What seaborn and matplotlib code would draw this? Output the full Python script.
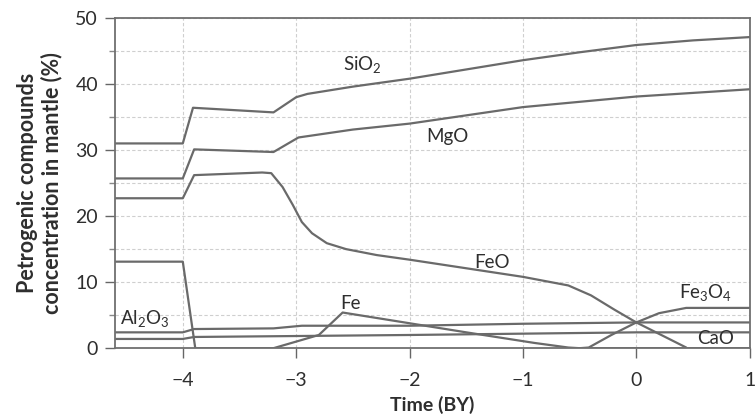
"""Petrogenic compounds concentration in the mantle over time."""

import matplotlib
matplotlib.use("Agg")
import matplotlib.pyplot as plt
import pandas as pd
import seaborn as sns

# --- data (time in BY, concentration in %) ---
SIO2_TIME = [-4.6, -4.0, -3.91, -3.2, -3.0, -2.9, -2.5, -2.0, -1.5, -1.0, -0.5, 0.0, 0.5, 1.0]
SIO2 = [31.0, 31.0, 36.4, 35.7, 38.0, 38.5, 39.6, 40.8, 42.2, 43.6, 44.8, 45.9, 46.6, 47.1]

MGO_TIME = [-4.6, -4.0, -3.9, -3.2, -2.98, -2.5, -2.0, -1.0, 0.0, 1.0]
MGO = [25.7, 25.7, 30.1, 29.7, 31.9, 33.1, 34.0, 36.5, 38.1, 39.2]

FEO_TIME = [-4.6, -4.0, -3.9, -3.3, -3.22, -3.12, -3.03, -2.95, -2.86, -2.73, -2.56,
            -2.29, -2.0, -1.5, -1.0, -0.6, -0.4, -0.19, 0.0, 0.44]
FEO = [22.7, 22.7, 26.2, 26.6, 26.5, 24.4, 21.7, 19.1, 17.4, 15.9, 15.0,
       14.1, 13.4, 12.1, 10.8, 9.5, 8.0, 5.8, 3.9, 0.1]

FE_TIME = [-4.6, -4.0, -3.89, -3.2, -2.8, -2.59, -1.5, -0.9, -0.6, -0.5, 1.0]
FE = [13.1, 13.1, 0.0, 0.0, 2.0, 5.4, 2.4, 0.8, 0.1, 0.0, 0.0]

FE3O4_TIME = [-0.5, -0.42, -0.22, 0.0, 0.2, 0.44, 1.0]
FE3O4 = [0.0, 0.1, 2.0, 3.9, 5.3, 6.1, 6.1]

AL2O3_TIME = [-4.6, -4.0, -3.9, -3.2, -2.95, -2.0, -1.0, 0.0, 1.0]
AL2O3 = [2.4, 2.4, 2.9, 3.0, 3.4, 3.4, 3.7, 3.9, 3.9]

CAO_TIME = [-4.6, -4.0, -3.9, -2.0, -1.0, 0.0, 1.0]
CAO = [1.4, 1.4, 1.7, 2.0, 2.2, 2.4, 2.4]

X_TICKS = [-4, -3, -2, -1, 0, 1]
Y_TICKS = [0, 10, 20, 30, 40, 50]

# label text and where it sits (time, %)
LABELS = [
    ("SiO$_2$", -2.42, 43.0),
    ("MgO", -1.67, 32.0),
    ("FeO", -1.27, 13.0),
    ("Fe", -2.52, 6.8),
    ("Fe$_3$O$_4$", 0.61, 8.5),
    ("CaO", 0.70, 1.5),
    ("Al$_2$O$_3$", -4.34, 4.5),
]

SERIES = {
    "SiO2": (SIO2_TIME, SIO2),
    "MgO": (MGO_TIME, MGO),
    "FeO": (FEO_TIME, FEO),
    "Fe": (FE_TIME, FE),
    "Fe3O4": (FE3O4_TIME, FE3O4),
    "Al2O3": (AL2O3_TIME, AL2O3),
    "CaO": (CAO_TIME, CAO),
}

frames = [pd.DataFrame({"compound": name, "time": t, "value": v})
          for name, (t, v) in SERIES.items()]
df = pd.concat(frames, ignore_index=True)

sns.set_theme(style="ticks")
plt.rcParams["font.family"] = ["Lato", "DejaVu Sans"]
plt.rcParams["mathtext.default"] = "regular"

line_color = "#6a6a6a"
text_color = "#2e2e2e"
fig, ax = plt.subplots(figsize=(7.55, 4.17), dpi=100)
fig.subplots_adjust(left=0.152, right=0.993, top=0.957, bottom=0.165)

sns.lineplot(data=df, x="time", y="value", units="compound", estimator=None,
             sort=False, color=line_color, linewidth=1.6, ax=ax)

for text, x, y in LABELS:
    ax.text(x, y, text, ha="center", va="center", fontsize=13.5, color=text_color)

ax.set_xlim(-4.6, 1.0)
ax.set_ylim(0, 50)
ax.set_xticks(X_TICKS)
ax.set_xticklabels([str(t).replace("-", "\u2212") for t in X_TICKS])
ax.set_yticks(Y_TICKS)
ax.set_yticks([5, 15, 25, 35, 45], minor=True)
ax.tick_params(axis="both", labelsize=14, colors="#666666", labelcolor=text_color,
               length=7, width=1)
ax.tick_params(axis="x", pad=10)
ax.tick_params(axis="y", pad=5)
ax.tick_params(axis="y", which="minor", length=4, width=1, colors="#888888")

ax.grid(True, which="both", color="#cfcfcf", linestyle=(0, (3, 2)), linewidth=0.8)
for side in ["top", "right", "left", "bottom"]:
    ax.spines[side].set_visible(True)
    ax.spines[side].set_color("#707070")
    ax.spines[side].set_linewidth(1.3)

ax.set_xlabel("Time (BY)", fontsize=14, fontweight="bold", color=text_color,
              labelpad=5)
ax.set_ylabel("Petrogenic compounds\nconcentration in mantle (%)", fontsize=15.5,
              fontweight="bold", color=text_color, labelpad=9, linespacing=1.15)

fig.savefig("out.png", dpi=100)
